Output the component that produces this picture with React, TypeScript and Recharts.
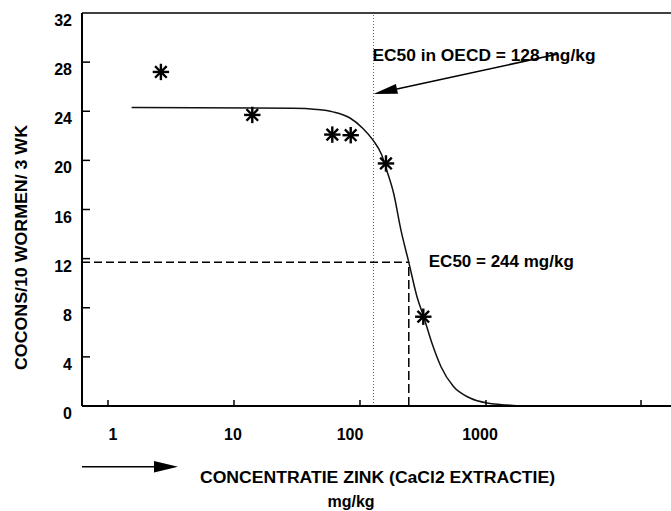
import {
  ComposedChart,
  Line,
  Scatter,
  XAxis,
  YAxis,
  ReferenceLine,
  ReferenceDot
} from 'recharts';

// fitted dose-response curve (mg/kg vs cocons)
const CURVE_CONC = [1.54, 29.4, 45.3, 61.1, 83.3, 105.6, 126.8, 148.6, 162.9, 185.1, 211.6, 244, 283.4, 320.3, 372.7, 439.5, 550, 746, 1057, 1460, 1860];
const CURVE_COCONS = [24.3, 24.25, 24.15, 23.95, 23.45, 22.6, 21.65, 20.45, 19.2, 17.3, 14.3, 11.7, 8.9, 7.27, 5.1, 3.2, 1.6, 0.65, 0.22, 0.08, 0];

// measured points
const OBS_CONC = [2.63, 13.97, 60.3, 84.4, 160.8, 318];
const OBS_COCONS = [27.2, 23.7, 22.1, 22.05, 19.75, 7.27];

const X_TICKS = [1, 10, 100, 1000, 17000];
const X_TICK_LABELS = ['1', '10', '100', '1000', ''];
const Y_TICKS = [0, 4, 8, 12, 16, 20, 24, 28, 32];

const X_DOMAIN = [0.622, 29400];
const Y_DOMAIN = [0, 32];

const EC50 = 244;
const EC50_RESPONSE = 11.7;
const EC50_OECD = 128;
const OECD_ARROW_FROM = { x: 3726, y: 28.66 };
const OECD_ARROW_TO = { x: 128, y: 25.4 };

const FONT = '"Liberation Sans", Arial, Helvetica, sans-serif';

// the printed tick labels sit a little off their tick marks
const X_LABEL_SHIFT = [5, -1, -10, -6, 0];

const curve = CURVE_CONC.map((x, i) => ({ x, y: CURVE_COCONS[i] }));
const observed = OBS_CONC.map((x, i) => ({ x, y: OBS_COCONS[i] }));

const Asterisk = ({ cx, cy }: any) => {
  const r = 7;
  const d = r * Math.SQRT1_2;
  return (
    <g stroke="#000" strokeWidth={2.4} strokeLinecap="square">
      <line x1={cx - r} y1={cy} x2={cx + r} y2={cy} />
      <line x1={cx} y1={cy - r} x2={cx} y2={cy + r} />
      <line x1={cx - d} y1={cy - d} x2={cx + d} y2={cy + d} />
      <line x1={cx - d} y1={cy + d} x2={cx + d} y2={cy - d} />
      <circle cx={cx} cy={cy} r={2.6} fill="#000" stroke="none" />
    </g>
  );
};

const YTick = ({ x, y, payload }: any) => (
  <g>
    {payload.value > 0 && payload.value < 32 && (
      <line x1={x} y1={y} x2={x + 8} y2={y} stroke="#000" strokeWidth={1.5} />
    )}
    <text x={x - 10} y={y + 13} textAnchor="end" fontFamily={FONT} fontWeight="bold" fontSize={16} fill="#000">
      {payload.value}
    </text>
  </g>
);

const XTick = ({ x, y, index }: any) => (
  <g>
    <line x1={x} y1={y} x2={x} y2={y - 6} stroke="#000" strokeWidth={1.5} />
    <text
      x={x + (X_LABEL_SHIFT[index] ?? 0)}
      y={y + 34}
      textAnchor="middle"
      fontFamily={FONT}
      fontWeight="bold"
      fontSize={16}
      fill="#000"
    >
      {X_TICK_LABELS[index] ?? ''}
    </text>
  </g>
);

const ArrowLine = ({ x1, y1, x2, y2 }: any) => {
  const ang = Math.atan2(y2 - y1, x2 - x1);
  const len = 24;
  const half = 5;
  const bx = x2 - len * Math.cos(ang);
  const by = y2 - len * Math.sin(ang);
  const nx = -Math.sin(ang) * half;
  const ny = Math.cos(ang) * half;
  return (
    <g>
      <line x1={x1} y1={y1} x2={bx} y2={by} stroke="#000" strokeWidth={1.5} />
      <polygon points={`${x2},${y2} ${bx + nx},${by + ny} ${bx - nx},${by - ny}`} fill="#000" />
    </g>
  );
};

const OecdLabel = ({ cx, cy }: any) => (
  <text x={cx - 1} y={cy} fontFamily={FONT} fontWeight="bold" fontSize={16} textLength={223} lengthAdjust="spacingAndGlyphs" fill="#000">
    EC50 in OECD = 128 mg/kg
  </text>
);

const Ec50Label = ({ cx, cy }: any) => (
  <text x={cx + 20} y={cy + 5} fontFamily={FONT} fontWeight="bold" fontSize={16} textLength={145} lengthAdjust="spacingAndGlyphs" fill="#000">
    EC50 = 244 mg/kg
  </text>
);

export default function App() {
  return (
    <div style={{ position: 'absolute', left: 0, top: 0, width: 671, height: 511, background: '#fff' }}>
      <ComposedChart
        width={671}
        height={511}
        margin={{ top: 13, right: 0, bottom: 0, left: 0 }}
        style={{ position: 'absolute', left: 0, top: 0 }}
      >
        <XAxis
          dataKey="x"
          type="number"
          scale="log"
          domain={X_DOMAIN}
          allowDataOverflow
          ticks={X_TICKS}
          interval={0}
          tickSize={0}
          tickMargin={0}
          tick={<XTick />}
          tickLine={false}
          axisLine={{ stroke: '#000', strokeWidth: 2 }}
          height={105}
        />
        <YAxis
          dataKey="y"
          type="number"
          domain={Y_DOMAIN}
          ticks={Y_TICKS}
          interval={0}
          tickSize={0}
          tickMargin={0}
          tick={<YTick />}
          tickLine={false}
          axisLine={{ stroke: '#000', strokeWidth: 2 }}
          width={82}
        />

        <ReferenceLine y={32} stroke="#000" strokeWidth={1.5} />
        <ReferenceLine x={EC50_OECD} stroke="#666" strokeWidth={1} strokeDasharray="1 2" />
        <ReferenceLine
          segment={[{ x: X_DOMAIN[0], y: EC50_RESPONSE }, { x: EC50, y: EC50_RESPONSE }]}
          stroke="#000"
          strokeWidth={1.5}
          strokeDasharray="8 4"
        />
        <ReferenceLine
          segment={[{ x: EC50, y: 0 }, { x: EC50, y: EC50_RESPONSE }]}
          stroke="#000"
          strokeWidth={1.5}
          strokeDasharray="9 4"
        />
        <ReferenceLine
          segment={[OECD_ARROW_FROM, OECD_ARROW_TO]}
          shape={<ArrowLine />}
        />

        <Line
          data={curve}
          dataKey="y"
          type="monotone"
          stroke="#111"
          strokeWidth={1.5}
          dot={false}
          activeDot={false}
          isAnimationActive={false}
        />
        <Scatter data={observed} dataKey="y" shape={<Asterisk />} isAnimationActive={false} />

        <ReferenceDot x={EC50_OECD} y={28.1} r={0} shape={<OecdLabel />} />
        <ReferenceDot x={EC50} y={EC50_RESPONSE} r={0} shape={<Ec50Label />} />
      </ComposedChart>

      <svg width={671} height={511} style={{ position: 'absolute', left: 0, top: 0, pointerEvents: 'none' }}>
        <text
          x={26.7}
          y={247.5}
          transform="rotate(-90, 26.7, 247.5)"
          textAnchor="middle"
          fontFamily={FONT}
          fontWeight="bold"
          fontSize={17}
          textLength={245}
          lengthAdjust="spacingAndGlyphs"
        >
          COCONS/10 WORMEN/ 3 WK
        </text>
        <line x1={82} y1={466.7} x2={156} y2={466.7} stroke="#000" strokeWidth={1.5} />
        <polygon points="178,466.7 154,461 154,472.4" fill="#000" />
        <text x={200} y={483.3} fontFamily={FONT} fontWeight="bold" fontSize={16} textLength={355} lengthAdjust="spacingAndGlyphs">
          CONCENTRATIE ZINK (CaCl2 EXTRACTIE)
        </text>
        <text x={351} y={507} textAnchor="middle" fontFamily={FONT} fontWeight="bold" fontSize={16}>
          mg/kg
        </text>
      </svg>
    </div>
  );
}
